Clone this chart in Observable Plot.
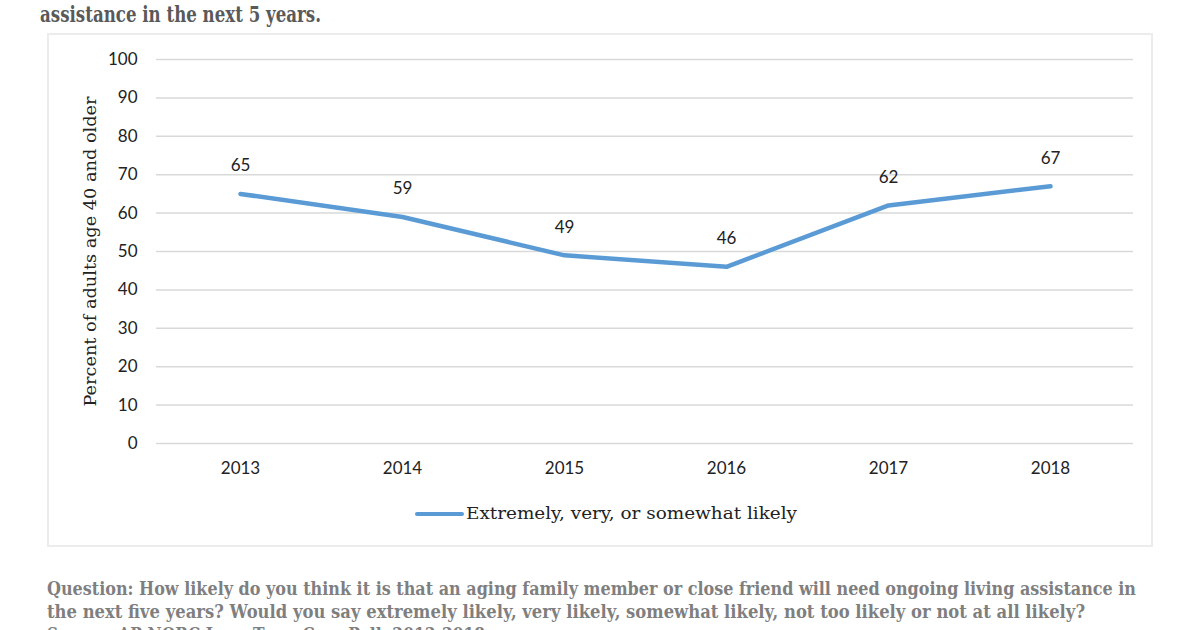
<!DOCTYPE html>
<html><head><meta charset="utf-8">
<script src="https://cdn.jsdelivr.net/npm/d3@7"></script>
<script src="https://cdn.jsdelivr.net/npm/@observablehq/plot@0.6"></script>
<style>
body{margin:0;width:1200px;height:630px;overflow:hidden;background:#fff;position:relative;font-family:"DejaVu Serif",serif;}
.abs{position:absolute;white-space:nowrap;transform-origin:0 50%;}
#title{left:40px;top:2px;font-weight:bold;font-size:22px;line-height:24px;color:#595959;}
#box{position:absolute;left:47px;top:33px;width:1102px;height:510px;border:2px solid #ececec;}
#chart{position:absolute;left:47px;top:33px;}
#legline{position:absolute;left:415px;top:512px;width:49px;height:4px;background:#5b9bd5;border-radius:2px;}
#legtext{left:466px;top:503px;font-size:16px;line-height:22px;color:#222;}
.foot{left:47px;font-size:18.5px;line-height:23px;color:#7f7f7f;font-weight:bold;}
</style></head>
<body>
<div id="title" class="abs">assistance in the next 5 years.</div>
<div id="box"></div>
<div id="chart"></div>
<div id="legline"></div>
<div id="legtext" class="abs">Extremely, very, or somewhat likely</div>
<div id="f1" class="abs foot" style="top:577px">Question: How likely do you think it is that an aging family member or close friend will need ongoing living assistance in</div>
<div id="f2" class="abs foot" style="top:600px">the next five years? Would you say extremely likely, very likely, somewhat likely, not too likely or not at all likely?</div>
<div id="f3" class="abs foot" style="top:623px">Source: AP-NORC Long-Term Care Poll, 2013-2018</div>
<script>
const years = ["2013", "2014", "2015", "2016", "2017", "2018"];
const likelyValues = [65, 59, 49, 46, 62, 67];
const yTicks = [0, 10, 20, 30, 40, 50, 60, 70, 80, 90, 100];
const yLabel = "Percent of adults age 40 and older";
const seriesName = "Extremely, very, or somewhat likely";

const data = years.map((y, i) => ({year: y, value: likelyValues[i]}));

const chart = Plot.plot({
  width: 1106,
  height: 450,
  marginLeft: 109,
  marginRight: 20,
  marginTop: 26,
  marginBottom: 40,
  x: {type: "point", domain: years, padding: 0.5, label: null},
  y: {domain: [0, 100], label: null},
  style: {fontFamily: "Lato, sans-serif", fontSize: "17px", color: "#222", background: "transparent", overflow: "visible"},
  marks: [
    Plot.gridY(yTicks, {stroke: "#d9d9d9", strokeOpacity: 1, strokeWidth: 1.5}),
    Plot.axisY(yTicks, {tickSize: 0, tickPadding: 19, label: null}),
    Plot.axisX({tickSize: 0, tickPadding: 18, label: null}),
    Plot.text([yLabel], {frameAnchor: "left", textAnchor: "middle", rotate: -90, dx: -66, fontFamily: "DejaVu Serif, serif", fontSize: 17, fill: "#222", className: "ylab"}),
    Plot.line(data, {x: "year", y: "value", stroke: "#5b9bd5", strokeWidth: 4.5, strokeLinecap: "round"}),
    Plot.text(data, {x: "year", y: "value", text: d => String(d.value), dy: -28, fill: "#222"})
  ]
});
document.getElementById("chart").appendChild(chart);
d3.select(chart).selectAll(".ylab text").attr("textLength", 310).attr("lengthAdjust", "spacingAndGlyphs");

function fit(id, target) {
  const el = document.getElementById(id);
  const w = el.getBoundingClientRect().width;
  el.style.transform = `scaleX(${target / w})`;
}
fit("title", 281);
fit("legtext", 331);
fit("f1", 1089);
fit("f2", 1038);
fit("f3", 438);
</script>
</body></html>
